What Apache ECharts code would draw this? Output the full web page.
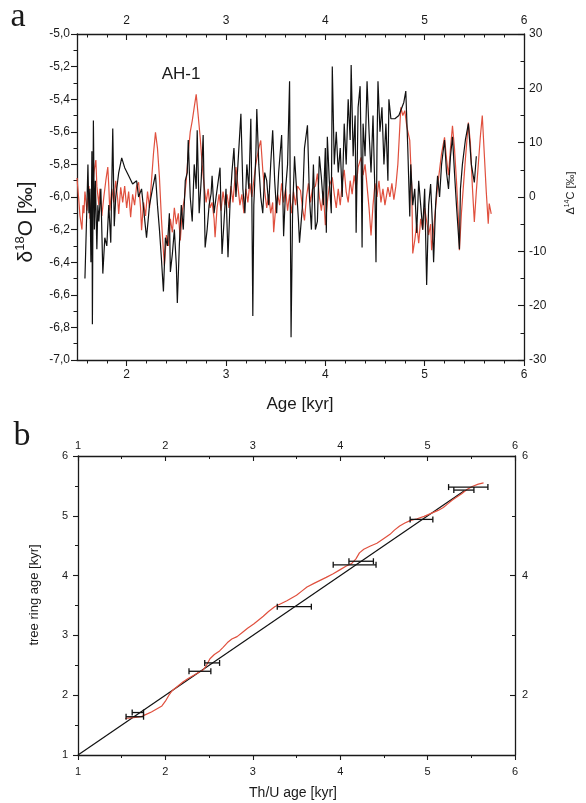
<!DOCTYPE html>
<html><head><meta charset="utf-8">
<script src="https://cdn.jsdelivr.net/npm/echarts@6/dist/echarts.min.js"></script>
<style>html,body{margin:0;padding:0;background:#fff}#c{width:586px;height:803px}</style>
</head><body><div id="c"></div>
<script>
// ---------- Panel a data ----------
const blackAge = [1.58,1.60,1.61,1.62,1.63,1.64,1.65,1.655,1.665,1.675,1.685,1.70,1.71,1.72,1.74,1.76,1.78,1.80,1.82,1.84,1.86,1.875,1.89,1.92,1.95,1.98,2.02,2.06,2.10,2.12,2.15,2.20,2.23,2.26,2.29,2.31,2.33,2.35,2.37,2.39,2.41,2.43,2.44,2.46,2.48,2.50,2.51,2.53,2.55,2.57,2.59,2.61,2.62,2.64,2.66,2.68,2.70,2.71,2.73,2.75,2.77,2.79,2.81,2.83,2.85,2.86,2.88,2.90,2.92,2.94,2.96,2.98,3.00,3.02,3.04,3.06,3.08,3.10,3.12,3.15,3.17,3.19,3.21,3.23,3.25,3.26,3.27,3.28,3.30,3.31,3.33,3.35,3.37,3.39,3.41,3.43,3.45,3.47,3.49,3.51,3.53,3.56,3.58,3.60,3.62,3.64,3.655,3.67,3.69,3.71,3.73,3.74,3.77,3.79,3.82,3.84,3.86,3.88,3.90,3.92,3.94,3.96,3.98,4.00,4.01,4.02,4.04,4.06,4.07,4.09,4.11,4.13,4.15,4.17,4.19,4.21,4.23,4.25,4.26,4.28,4.30,4.31,4.33,4.35,4.36,4.37,4.38,4.40,4.42,4.44,4.46,4.48,4.50,4.51,4.52,4.53,4.55,4.57,4.59,4.61,4.63,4.64,4.66,4.70,4.74,4.76,4.79,4.81,4.83,4.85,4.86,4.88,4.90,4.92,4.94,4.96,4.98,5.00,5.02,5.04,5.06,5.08,5.09,5.11,5.13,5.15,5.17,5.20,5.22,5.24,5.26,5.28,5.30,5.32,5.35,5.36,5.38,5.41,5.44,5.47,5.50,5.52];
const blackD18O = [-6.50,-6.05,-5.80,-6.10,-5.95,-6.40,-5.72,-6.78,-5.53,-6.20,-5.90,-6.32,-6.05,-6.15,-5.95,-6.47,-6.25,-6.30,-6.05,-6.28,-5.58,-6.18,-6.00,-5.85,-5.76,-5.82,-5.87,-5.92,-5.90,-6.00,-5.95,-6.25,-6.05,-5.95,-5.86,-6.05,-6.20,-6.38,-6.58,-6.25,-6.30,-6.10,-6.46,-6.35,-6.20,-6.42,-6.65,-6.30,-6.05,-6.20,-5.90,-5.85,-5.65,-6.00,-6.15,-5.80,-5.95,-5.59,-6.10,-5.90,-5.62,-6.31,-6.20,-6.05,-5.98,-5.87,-6.10,-6.00,-6.00,-5.82,-6.35,-6.15,-5.95,-6.37,-6.05,-5.85,-5.70,-6.00,-5.80,-5.49,-5.95,-6.10,-5.80,-5.95,-5.52,-6.00,-6.73,-6.05,-5.75,-5.46,-5.80,-6.00,-6.10,-5.85,-5.90,-6.05,-5.80,-5.59,-5.90,-6.10,-5.85,-5.62,-6.24,-5.95,-5.80,-5.29,-6.86,-6.10,-5.75,-5.95,-6.15,-6.28,-6.05,-5.70,-5.56,-6.00,-6.20,-5.80,-6.20,-6.15,-5.75,-5.88,-6.05,-5.70,-6.22,-5.63,-5.90,-6.10,-5.20,-5.80,-5.60,-5.85,-5.70,-6.00,-5.55,-5.80,-5.40,-5.65,-5.19,-5.75,-5.50,-6.22,-5.45,-5.32,-5.70,-6.31,-5.55,-5.75,-5.29,-5.60,-5.85,-5.50,-6.00,-6.40,-5.70,-5.29,-5.60,-5.45,-5.80,-5.55,-5.90,-5.40,-5.52,-5.52,-5.50,-5.50,-5.42,-5.35,-5.70,-6.12,-5.80,-6.05,-5.95,-6.22,-5.90,-6.05,-6.20,-5.95,-6.54,-6.05,-5.92,-6.20,-6.40,-6.05,-5.87,-6.00,-5.80,-5.65,-5.85,-5.95,-5.75,-5.63,-5.85,-6.05,-6.32,-5.95,-5.80,-5.65,-5.55,-5.80,-5.91,-5.75];
const redAge = [1.50,1.52,1.53,1.55,1.56,1.57,1.58,1.60,1.62,1.63,1.65,1.67,1.69,1.70,1.72,1.73,1.75,1.77,1.79,1.81,1.82,1.83,1.85,1.87,1.89,1.91,1.92,1.94,1.96,1.98,2.00,2.02,2.04,2.06,2.08,2.10,2.12,2.14,2.15,2.17,2.19,2.21,2.23,2.25,2.27,2.29,2.31,2.33,2.35,2.37,2.38,2.40,2.42,2.44,2.46,2.48,2.50,2.52,2.54,2.56,2.58,2.60,2.62,2.64,2.66,2.68,2.70,2.72,2.74,2.76,2.78,2.80,2.82,2.84,2.86,2.88,2.89,2.91,2.93,2.95,2.97,2.99,3.01,3.03,3.05,3.07,3.09,3.10,3.12,3.14,3.16,3.18,3.20,3.22,3.24,3.26,3.28,3.30,3.33,3.35,3.37,3.39,3.41,3.43,3.45,3.47,3.48,3.50,3.52,3.54,3.56,3.58,3.60,3.62,3.64,3.66,3.68,3.70,3.72,3.75,3.77,3.79,3.81,3.83,3.85,3.87,3.90,3.92,3.94,3.96,3.98,4.00,4.02,4.04,4.07,4.09,4.11,4.13,4.15,4.17,4.19,4.21,4.23,4.25,4.27,4.29,4.31,4.33,4.36,4.38,4.40,4.42,4.44,4.46,4.48,4.50,4.52,4.54,4.56,4.58,4.60,4.63,4.65,4.67,4.69,4.71,4.73,4.75,4.76,4.78,4.80,4.82,4.85,4.87,4.88,4.90,4.92,4.94,4.96,4.98,5.00,5.02,5.04,5.06,5.07,5.09,5.11,5.13,5.15,5.17,5.20,5.22,5.24,5.26,5.28,5.30,5.32,5.34,5.35,5.37,5.39,5.41,5.44,5.46,5.48,5.50,5.52,5.54,5.56,5.58,5.60,5.62,5.64,5.65,5.67];
const redD14C = [3.5,-1.0,-3.5,-6.0,-1.5,-3.0,1.0,-2.5,2.0,-4.0,0.5,4.5,6.8,2.0,-1.5,1.5,-3.5,0.0,3.0,5.5,2.0,-2.5,1.5,-1.0,3.0,-0.5,-3.1,1.8,-1.0,2.0,-2.0,1.0,-3.7,0.5,-1.5,2.0,2.7,-2.0,-6.1,-1.0,-3.5,1.0,-2.0,3.0,8.0,11.9,9.0,3.6,-4.0,-10.0,-12.6,-7.0,-9.0,-4.0,-6.5,-2.0,-5.0,-3.0,-8.0,-2.5,-0.5,3.0,8.0,12.0,14.0,16.5,18.9,15.0,11.0,6.0,2.0,-1.0,1.5,-2.0,-1.0,-4.0,-7.4,-2.0,0.5,-2.5,1.0,-1.5,0.5,-2.0,2.0,-1.0,3.5,5.5,2.0,-1.5,0.5,-3.0,1.5,-1.0,2.5,0.0,3.0,6.0,9.0,10.4,5.0,1.0,-2.0,0.5,-3.0,-1.0,-6.5,-2.0,0.5,-1.5,2.5,-1.0,1.5,-2.5,0.5,-3.0,1.0,-1.5,2.0,1.2,-2.0,-4.3,0.0,2.5,-1.0,1.5,2.0,4.3,0.0,-2.5,1.0,-5.2,-1.0,2.0,3.6,0.5,-2.0,1.5,-1.5,2.5,5.0,1.0,-1.0,3.0,0.5,4.0,1.5,5.5,7.3,4.0,6.0,2.0,-2.0,-7.1,-1.5,2.5,0.0,3.0,-1.0,1.5,-1.5,1.8,0.0,2.5,-0.5,2.0,6.0,13.0,16.5,15.0,15.9,13.0,10.4,1.8,-10.4,-8.0,-5.0,-8.5,-4.0,-6.0,-2.0,-4.5,-7.0,-5.0,-9.8,-6.0,-2.0,2.0,5.0,8.0,11.0,7.0,4.0,9.0,13.1,9.0,3.0,-4.0,-9.8,-3.0,2.0,7.0,13.7,10.0,2.0,-4.6,1.0,6.0,11.0,15.0,8.0,1.0,-4.9,-1.2,-3.1];
const ageMajorA = [2,3,4,5,6];
const ageMinorA = [1.6,1.8,2.2,2.4,2.6,2.8,3.2,3.4,3.6,3.8,4.2,4.4,4.6,4.8,5.2,5.4,5.6,5.8];

// ---------- Panel b data ----------
const oneToOne = [1, 5.42];
const thuAge = [1.54,1.60,1.66,1.72,1.78,1.84,1.90,1.96,2.00,2.04,2.08,2.14,2.20,2.26,2.32,2.38,2.43,2.47,2.51,2.56,2.62,2.66,2.71,2.76,2.82,2.88,2.94,3.01,3.06,3.12,3.18,3.25,3.32,3.39,3.45,3.50,3.56,3.62,3.70,3.77,3.84,3.92,4.00,4.07,4.13,4.18,4.22,4.27,4.34,4.42,4.50,4.57,4.62,4.68,4.74,4.80,4.88,4.96,5.04,5.12,5.18,5.23,5.28,5.33,5.39,5.45,5.51,5.58,5.64];
const ringAge = [1.61,1.62,1.63,1.64,1.68,1.72,1.77,1.82,1.90,2.00,2.08,2.15,2.22,2.28,2.33,2.38,2.42,2.50,2.61,2.68,2.74,2.80,2.88,2.94,2.98,3.05,3.12,3.19,3.25,3.32,3.40,3.48,3.53,3.58,3.63,3.67,3.74,3.81,3.87,3.92,3.97,4.03,4.10,4.16,4.20,4.28,4.38,4.44,4.49,4.54,4.62,4.69,4.76,4.83,4.88,4.92,4.95,4.99,5.04,5.09,5.14,5.20,5.26,5.31,5.37,5.44,5.49,5.53,5.55];
const ebTree = [1.64,1.71,2.40,2.54,3.48,4.18,4.24,4.94,5.48,5.43];
const ebLo   = [1.55,1.62,2.27,2.45,3.28,3.92,4.10,4.80,5.24,5.30];
const ebHi   = [1.75,1.75,2.52,2.62,3.67,4.41,4.38,5.06,5.69,5.53];
const rightMajorB = [2,4,6];
const rightMinorB = [1,3,5];

const FONT = 'Liberation Sans, Arial, sans-serif';
const INK = '#1a1a1a';
const RED = '#e0503e';

function pairs(xs, ys){ return xs.map((x,i)=>[x, ys[i]]); }
const lineW = 1.3;
function axisBase(extra){
  return Object.assign({
    type:'value', splitLine:{show:false},
    axisLine:{show:true, onZero:false, lineStyle:{color:INK, width:lineW}},
    axisTick:{show:true, lineStyle:{color:INK, width:1.1}},
    axisLabel:{color:INK, fontFamily:FONT, fontSize:12}
  }, extra);
}

const chart = echarts.init(document.getElementById('c'));
const option = {
  animation:false,
  backgroundColor:'#fff',
  grid:[
    {left:77, top:34, width:447, height:326},
    {left:78, top:456, width:437, height:299}
  ],
  xAxis:[
    axisBase({gridIndex:0, position:'bottom', min:1.5, max:6,
      axisTick:{show:true, inside:false, length:6, customValues:ageMajorA, lineStyle:{color:INK,width:1.1}},
      axisLabel:{color:INK, fontFamily:FONT, fontSize:12, margin:9, customValues:ageMajorA}}),
    axisBase({gridIndex:0, position:'bottom', min:1.5, max:6,
      axisLine:{show:false, onZero:false},
      axisTick:{show:true, inside:false, length:3.5, customValues:ageMinorA, lineStyle:{color:INK,width:1}},
      axisLabel:{show:false}}),
    axisBase({gridIndex:0, position:'top', min:1.5, max:6,
      axisTick:{show:true, inside:true, length:6, customValues:ageMajorA, lineStyle:{color:INK,width:1.1}},
      axisLabel:{color:INK, fontFamily:FONT, fontSize:12, margin:7, customValues:ageMajorA}}),
    axisBase({gridIndex:0, position:'top', min:1.5, max:6,
      axisLine:{show:false, onZero:false},
      axisTick:{show:true, inside:true, length:3.5, customValues:ageMinorA, lineStyle:{color:INK,width:1}},
      axisLabel:{show:false}}),
    axisBase({gridIndex:1, position:'bottom', min:1, max:6, interval:1,
      axisTick:{show:true, inside:false, length:5, lineStyle:{color:INK,width:1.1}},
      minorTick:{show:true, splitNumber:2, length:3, lineStyle:{color:INK,width:1}},
      axisLabel:{color:INK, fontFamily:FONT, fontSize:11, margin:11}}),
    axisBase({gridIndex:1, position:'top', min:1, max:6, interval:1,
      axisTick:{show:true, inside:true, length:5, lineStyle:{color:INK,width:1.1}},
      minorTick:{show:true, splitNumber:2, length:3, lineStyle:{color:INK,width:1}},
      axisLabel:{color:INK, fontFamily:FONT, fontSize:11, margin:5}})
  ],
  yAxis:[
    axisBase({gridIndex:0, position:'left', min:-7, max:-5, interval:0.2,
      axisTick:{show:true, inside:false, length:6, lineStyle:{color:INK,width:1.1}},
      minorTick:{show:true, splitNumber:2, length:3.5, lineStyle:{color:INK,width:1}},
      axisLabel:{color:INK, fontFamily:FONT, fontSize:12, margin:7,
        formatter:v=>v.toFixed(1).replace('.',',')}}),
    axisBase({gridIndex:0, position:'right', min:-30, max:30, interval:10,
      axisTick:{show:true, inside:true, length:6, lineStyle:{color:INK,width:1.1}},
      minorTick:{show:true, splitNumber:2, length:3.5, lineStyle:{color:INK,width:1}},
      axisLabel:{color:INK, fontFamily:FONT, fontSize:12, margin:5}}),
    axisBase({gridIndex:1, position:'left', min:1, max:6, interval:1,
      axisTick:{show:true, inside:false, length:5, lineStyle:{color:INK,width:1.1}},
      minorTick:{show:true, splitNumber:2, length:3, lineStyle:{color:INK,width:1}},
      axisLabel:{color:INK, fontFamily:FONT, fontSize:11, margin:10}}),
    axisBase({gridIndex:1, position:'right', min:1, max:6,
      axisTick:{show:true, inside:true, length:5, customValues:rightMajorB, lineStyle:{color:INK,width:1.1}},
      axisLabel:{color:INK, fontFamily:FONT, fontSize:11, margin:7, customValues:rightMajorB}}),
    axisBase({gridIndex:1, position:'right', min:1, max:6,
      axisLine:{show:false, onZero:false},
      axisTick:{show:true, inside:true, length:3, customValues:rightMinorB, lineStyle:{color:INK,width:1}},
      axisLabel:{show:false}})
  ],
  graphic:[
    {type:'text', x:18, y:17, style:{text:'a', font:'34px Liberation Serif, serif', fill:INK, textAlign:'center', textVerticalAlign:'middle'}},
    {type:'text', x:22, y:436, style:{text:'b', font:'34px Liberation Serif, serif', fill:INK, textAlign:'center', textVerticalAlign:'middle'}},
    {type:'text', x:181, y:74, style:{text:'AH-1', font:'17px '+FONT, fill:INK, textAlign:'center', textVerticalAlign:'middle'}},
    {type:'text', x:300, y:404, style:{text:'Age [kyr]', font:'17px '+FONT, fill:INK, textAlign:'center', textVerticalAlign:'middle'}},
    {type:'text', x:26, y:222, rotation:Math.PI/2, style:{text:'{m|δ}{s|18}{m|O [‰]}', fill:INK, textAlign:'center', textVerticalAlign:'middle',
      rich:{m:{fontFamily:FONT, fontSize:21, lineHeight:25, fill:INK}, s:{fontFamily:FONT, fontSize:13, lineHeight:25, verticalAlign:'top', fill:INK}}}},
    {type:'text', x:571, y:193, rotation:Math.PI/2, style:{text:'{m|Δ}{s|14}{m|C [‰]}', fill:INK, textAlign:'center', textVerticalAlign:'middle',
      rich:{m:{fontFamily:FONT, fontSize:11, lineHeight:14, fill:INK}, s:{fontFamily:FONT, fontSize:7, lineHeight:14, verticalAlign:'top', fill:INK}}}},
    {type:'text', x:34, y:595, rotation:Math.PI/2, style:{text:'tree ring age [kyr]', font:'13px '+FONT, fill:INK, textAlign:'center', textVerticalAlign:'middle'}},
    {type:'text', x:293, y:793, style:{text:'Th/U age [kyr]', font:'14px '+FONT, fill:INK, textAlign:'center', textVerticalAlign:'middle'}}
  ],
  series:[
    {type:'line', xAxisIndex:0, yAxisIndex:1, data:pairs(redAge, redD14C), showSymbol:false, symbol:'none',
      lineStyle:{color:RED, width:1.2}, z:2},
    {type:'line', xAxisIndex:0, yAxisIndex:0, data:pairs(blackAge, blackD18O), showSymbol:false, symbol:'none',
      lineStyle:{color:'#111', width:1.2}, z:3},
    {type:'line', xAxisIndex:4, yAxisIndex:2, data:pairs(oneToOne, oneToOne), showSymbol:false, symbol:'none',
      lineStyle:{color:'#111', width:1.2}, z:2},
    {type:'line', xAxisIndex:4, yAxisIndex:2, data:pairs(thuAge, ringAge), showSymbol:false, symbol:'none',
      lineStyle:{color:RED, width:1.2}, z:3},
    {type:'custom', xAxisIndex:4, yAxisIndex:2, z:4,
      data: ebTree.map((t,i)=>[t, ebLo[i], ebHi[i]]),
      encode:{x:[1,2], y:0},
      renderItem:function(params, api){
        const y = api.value(0), lo = api.value(1), hi = api.value(2);
        const p1 = api.coord([lo, y]), p2 = api.coord([hi, y]);
        const h = 3, st = {stroke:'#111', lineWidth:1.3};
        return {type:'group', children:[
          {type:'line', shape:{x1:p1[0], y1:p1[1], x2:p2[0], y2:p2[1]}, style:st},
          {type:'line', shape:{x1:p1[0], y1:p1[1]-h, x2:p1[0], y2:p1[1]+h}, style:st},
          {type:'line', shape:{x1:p2[0], y1:p2[1]-h, x2:p2[0], y2:p2[1]+h}, style:st}
        ]};
      }}
  ]
};
chart.setOption(option);
</script>
</body></html>
